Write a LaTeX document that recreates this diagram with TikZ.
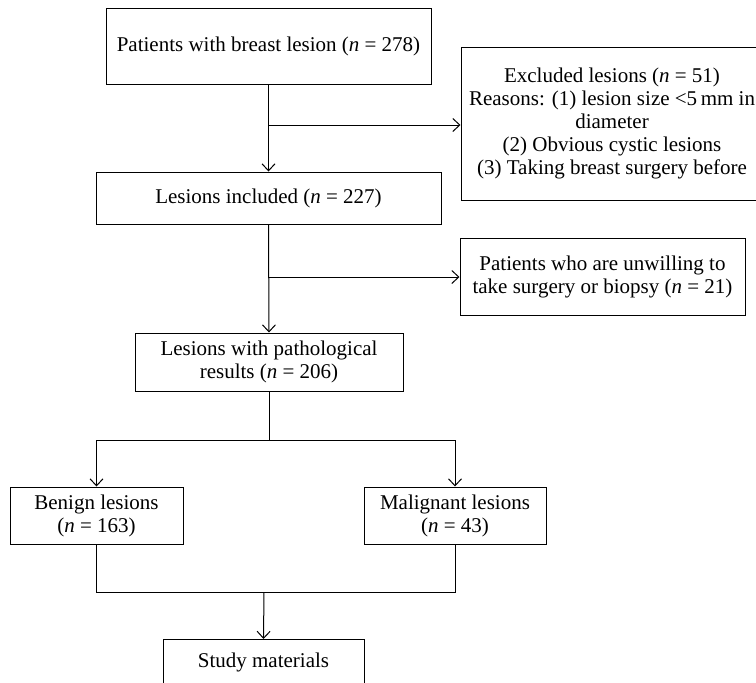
\documentclass[tikz,border=0pt]{standalone}
\usepackage{fontspec}
\setmainfont{Liberation Serif}
\usetikzlibrary{arrows.meta}
\begin{document}
\begin{tikzpicture}[x=1pt,y=-1pt,
  box/.style={draw, line width=1pt, inner sep=0pt, align=center,
    font=\fontsize{21}{23}\selectfont},
  txt/.style={inner sep=0pt, align=center, font=\fontsize{21}{23}\selectfont},
  conn/.style={line width=1pt},
  arr/.style={line width=1pt, -{Straight Barb[length=7pt,width=13pt]}}]
\clip (0,0) rectangle (756,683);
\fill[white] (0,0) rectangle (756,683);
% boxes
\node[box, minimum width=325, minimum height=76] (p1) at (268.5,46) {Patients with breast lesion (\textit{n} = 278)};
\node[box, minimum width=345, minimum height=52] (inc) at (268.5,198) {Lesions included (\textit{n} = 227)};
\node[box, minimum width=302, minimum height=153] (exc) at (612,123.5) {};
\node[txt] (exctext) at (612,123) {Excluded lesions (\textit{n} = 51)\\Reasons: (1) lesion size <5\,mm in\\diameter\\(2) Obvious cystic lesions\\(3) Taking breast surgery before};
\node[box, minimum width=285, minimum height=77] (unw) at (602.5,276.5) {Patients who are unwilling to\\take surgery or biopsy (\textit{n} = 21)};
\node[box, minimum width=268, minimum height=58] (path) at (269,362) {Lesions with pathological\\results (\textit{n} = 206)};
\node[box, minimum width=173, minimum height=57] (ben) at (96.5,515.5) {Benign lesions\\(\textit{n} = 163)};
\node[box, minimum width=182, minimum height=57] (mal) at (455,515.5) {Malignant lesions\\(\textit{n} = 43)};
\node[box, minimum width=201, minimum height=70, anchor=north] (study) at (263.5,639) {};
\node[txt] (studytext) at (263.5,662) {Study materials};
% connectors
\coordinate (b1) at (269,125);
\coordinate (b2) at (269,277);
\coordinate (b3) at (269,440);
\coordinate (b4) at (264,592);
\draw[arr] (p1.south) -- (inc.north);
\draw[arr] (b1) -- (b1 -| exc.west);
\draw[arr] (inc.south) -- (path.north);
\draw[arr] (b2) -- (b2 -| unw.west);
\draw[conn] (path.south) -- (b3);
\draw[conn] (b3 -| ben.north) -- (b3 -| mal.north);
\draw[arr] (b3 -| ben.north) -- (ben.north);
\draw[arr] (b3 -| mal.north) -- (mal.north);
\draw[conn] (ben.south) -- (ben.south |- b4) -- (mal.south |- b4) -- (mal.south);
\draw[arr] (b4) -- (study.north);
\end{tikzpicture}
\end{document}
